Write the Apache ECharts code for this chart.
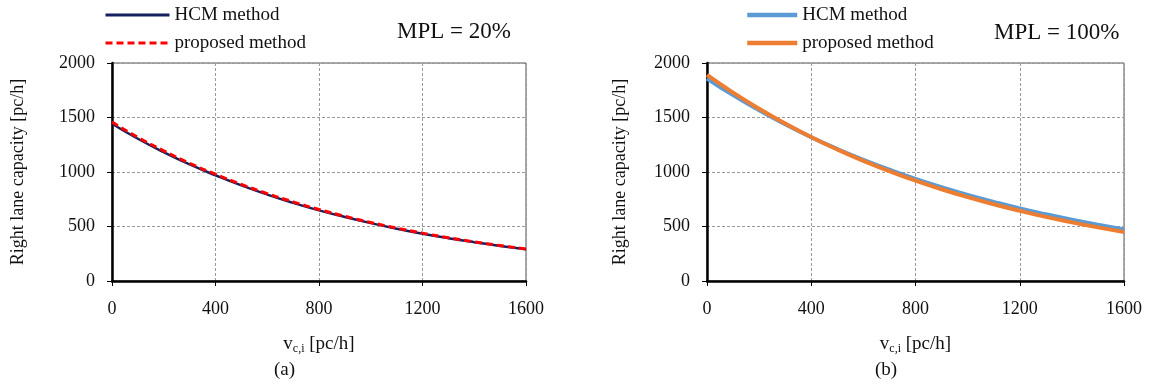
<!DOCTYPE html>
<html>
<head>
<meta charset="utf-8">
<script src="https://cdn.jsdelivr.net/npm/echarts@6/dist/echarts.min.js"></script>
<style>
html,body{margin:0;padding:0;background:#fff;}
#chart{width:1155px;height:385px;}
</style>
</head>
<body>
<div id="chart"></div>
<script>
// x values: conflicting volume v_c,i [pc/h]
const vci = [0,100,200,300,400,500,600,700,800,900,1000,1100,1200,1300,1400,1500,1600];
// (a) MPL = 20%
const hcmA = [1443,1305,1182,1070,970,877,793,717,648,587,531,480,434,393,356,322,291];
const propA = [1458,1318,1194,1080,980,886,802,726,656,594,537,486,439,397,359,325,294];
// (b) MPL = 100%
const hcmB = [1858,1705,1566,1438,1319,1211,1112,1021,937,861,790,726,666,612,562,516,473];
const propB = [1890,1728,1580,1444,1320,1206,1102,1008,921,842,770,704,644,588,538,492,450];
// axis ticks
const xTicks = [0,400,800,1200,1600];
const yTicks = [0,500,1000,1500,2000];
const seriesNames = ['HCM method','proposed method'];
const panelLabels = ['MPL = 20%','MPL = 100%'];
const captions = ['(a)','(b)'];

const FONT = '"Liberation Serif","Times New Roman",serif';
const chart = echarts.init(document.getElementById('chart'), null, {renderer:'canvas'});

function pairs(xs, ys){ return xs.map((x,i)=>[x, ys[i]]); }
const plain = v => String(v);

function xAxisFor(gi, gap){
  return {
    type:'value', gridIndex:gi, min:xTicks[0], max:xTicks[xTicks.length-1], interval:400,
    axisLine:{show:true, onZero:false, lineStyle:{color:'#000', width:2.5}},
    axisTick:{show:true, inside:false, length:5, lineStyle:{color:'#000', width:1}},
    axisLabel:{fontFamily:FONT, fontSize:18, color:'#111', margin:19, formatter:plain},
    splitLine:{show:true, lineStyle:{color:'#9a9a9a', type:[3,2], width:1}},
    name:'{v|v}{s|c,i}{v| [pc/h]}', nameLocation:'middle', nameGap:gap,
    nameTextStyle:{rich:{
      v:{fontFamily:FONT, fontSize:19, color:'#111', lineHeight:22, verticalAlign:'middle'},
      s:{fontFamily:FONT, fontSize:12, color:'#111', lineHeight:12, verticalAlign:'bottom', padding:[8,0,0,0]}
    }}
  };
}
function yAxisFor(gi, gap){
  return {
    type:'value', gridIndex:gi, min:yTicks[0], max:yTicks[yTicks.length-1], interval:500,
    axisLine:{show:true, onZero:false, lineStyle:{color:'#000', width:2.5}},
    axisTick:{show:true, inside:false, length:5, lineStyle:{color:'#000', width:1}},
    axisLabel:{fontFamily:FONT, fontSize:18, color:'#111', margin:17, formatter:plain},
    splitLine:{show:true, lineStyle:{color:'#9a9a9a', type:[3,2], width:1}},
    name:'Right lane capacity [pc/h]', nameLocation:'middle', nameGap:gap, nameRotate:90,
    nameTextStyle:{fontFamily:FONT, fontSize:18, color:'#111'}
  };
}

const legendBase = {orient:'vertical', top:0, padding:[5,0,0,0], itemHeight:14, itemGap:8,
  formatter:n=>n.slice(2), itemStyle:{opacity:0},
  textStyle:{fontFamily:FONT, fontSize:19, color:'#111', lineHeight:20}, selectedMode:false};

const option = {
  backgroundColor:'#fff',
  animation:false,
  grid:[
    {left:112, top:63, width:414, height:218, show:true, borderColor:'#555', borderWidth:1, backgroundColor:'transparent'},
    {left:707, top:63, width:417, height:218, show:true, borderColor:'#555', borderWidth:1, backgroundColor:'transparent'}
  ],
  xAxis:[xAxisFor(0,52), xAxisFor(1,52)],
  yAxis:[yAxisFor(0,85), yAxisFor(1,78)],
  legend:[
    Object.assign({}, legendBase, {left:104, itemWidth:64, lineStyle:{width:3},
      data:['a:'+seriesNames[0],'a:'+seriesNames[1]]}),
    Object.assign({}, legendBase, {left:745, itemWidth:50, lineStyle:{width:4.5},
      data:['b:'+seriesNames[0],'b:'+seriesNames[1]]})
  ],
  graphic:[
    {type:'text', left:397, top:20, style:{text:panelLabels[0], font:'23px '+FONT, fill:'#111'}},
    {type:'text', left:994, top:21, style:{text:panelLabels[1], font:'23px '+FONT, fill:'#111'}},
    {type:'text', left:274, top:361, style:{text:captions[0], font:'19px '+FONT, fill:'#111'}},
    {type:'text', left:875, top:361, style:{text:captions[1], font:'19px '+FONT, fill:'#111'}}
  ],
  series:[
    {name:'a:'+seriesNames[0], type:'line', xAxisIndex:0, yAxisIndex:0, data:pairs(vci,hcmA),
     smooth:true, symbol:'none', lineStyle:{color:'#14215e', width:2.5}, itemStyle:{color:'#14215e'}, z:2},
    {name:'a:'+seriesNames[1], type:'line', xAxisIndex:0, yAxisIndex:0, data:pairs(vci,propA),
     smooth:true, symbol:'none', lineStyle:{color:'#ff0000', width:3, type:[7,4]}, itemStyle:{color:'#ff0000'}, z:3},
    {name:'b:'+seriesNames[0], type:'line', xAxisIndex:1, yAxisIndex:1, data:pairs(vci,hcmB),
     smooth:true, symbol:'none', lineStyle:{color:'#5b9bd5', width:4}, itemStyle:{color:'#5b9bd5'}, z:2},
    {name:'b:'+seriesNames[1], type:'line', xAxisIndex:1, yAxisIndex:1, data:pairs(vci,propB),
     smooth:true, symbol:'none', lineStyle:{color:'#ed7d31', width:4}, itemStyle:{color:'#ed7d31'}, z:3}
  ]
};
chart.setOption(option);
</script>
</body>
</html>
